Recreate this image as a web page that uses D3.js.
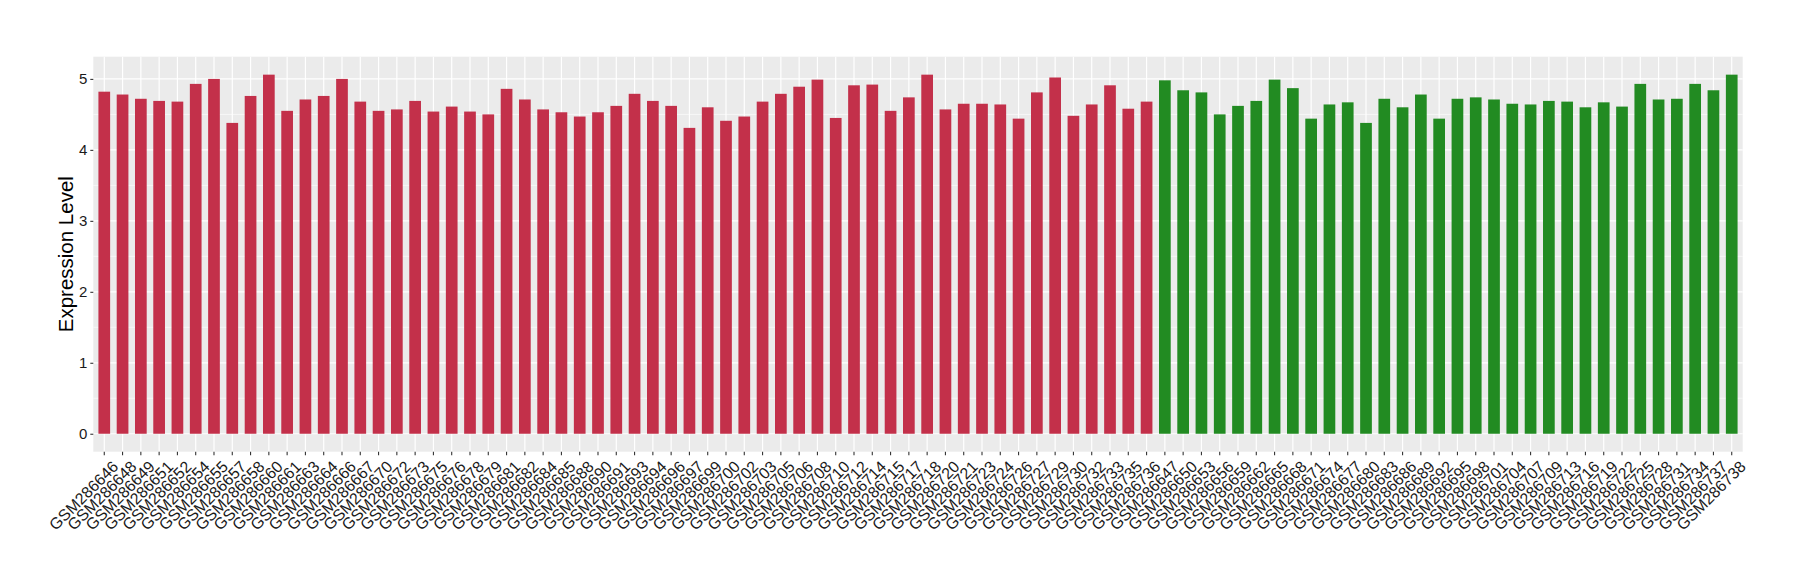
<!DOCTYPE html>
<html><head><meta charset="utf-8">
<script src="https://cdn.jsdelivr.net/npm/d3@7"></script>
<style>body{margin:0;background:#fff;}text{font-family:"Liberation Sans",Arial,sans-serif;}</style>
</head><body><svg id="c" width="1800" height="580"></svg>
<script>
const redSamples = ["GSM286646","GSM286648","GSM286649","GSM286651","GSM286652","GSM286654","GSM286655","GSM286657","GSM286658","GSM286660","GSM286661","GSM286663","GSM286664","GSM286666","GSM286667","GSM286670","GSM286672","GSM286673","GSM286675","GSM286676","GSM286678","GSM286679","GSM286681","GSM286682","GSM286684","GSM286685","GSM286688","GSM286690","GSM286691","GSM286693","GSM286694","GSM286696","GSM286697","GSM286699","GSM286700","GSM286702","GSM286703","GSM286705","GSM286706","GSM286708","GSM286710","GSM286712","GSM286714","GSM286715","GSM286717","GSM286718","GSM286720","GSM286721","GSM286723","GSM286724","GSM286726","GSM286727","GSM286729","GSM286730","GSM286732","GSM286733","GSM286735","GSM286736"];
const redValues = [4.82,4.78,4.72,4.69,4.68,4.93,5.00,4.38,4.76,5.06,4.55,4.71,4.76,5.00,4.68,4.55,4.57,4.69,4.54,4.61,4.54,4.50,4.86,4.71,4.57,4.53,4.47,4.53,4.62,4.79,4.69,4.62,4.31,4.60,4.41,4.47,4.68,4.79,4.89,4.99,4.45,4.91,4.92,4.55,4.74,5.06,4.57,4.65,4.65,4.64,4.44,4.81,5.02,4.48,4.64,4.91,4.58,4.68];
const greenSamples = ["GSM286647","GSM286650","GSM286653","GSM286656","GSM286659","GSM286662","GSM286665","GSM286668","GSM286671","GSM286674","GSM286677","GSM286680","GSM286683","GSM286686","GSM286689","GSM286692","GSM286695","GSM286698","GSM286701","GSM286704","GSM286707","GSM286709","GSM286713","GSM286716","GSM286719","GSM286722","GSM286725","GSM286728","GSM286731","GSM286734","GSM286737","GSM286738"];
const greenValues = [4.98,4.84,4.81,4.50,4.62,4.69,4.99,4.87,4.44,4.64,4.67,4.38,4.72,4.60,4.78,4.44,4.72,4.74,4.71,4.65,4.64,4.69,4.68,4.60,4.67,4.61,4.93,4.71,4.72,4.93,4.84,5.06];
const yTicks = [0,1,2,3,4,5];
const yTitle = "Expression Level";

const data = redSamples.map((s,i)=>({s, v:redValues[i], g:"red"}))
  .concat(greenSamples.map((s,i)=>({s, v:greenValues[i], g:"green"})));
const colors = {red:"#C3304A", green:"#228B22"};

const svg = d3.select("#c");
const L=93.3, R=1742.7, T=56.7, B=451.7;
const maxV = d3.max(data,d=>d.v);
const x = d3.scaleBand().domain(data.map(d=>d.s)).range([L,R]).paddingInner(0.36).paddingOuter(0.28);
const y = d3.scaleLinear().domain([-0.05*maxV, maxV*1.05]).range([B,T]);

svg.append("rect").attr("x",L).attr("y",T).attr("width",R-L).attr("height",B-T).attr("fill","#EBEBEB");
const minor = d3.range(0.5,5.5,1);
svg.append("g").selectAll("line").data(minor).join("line")
  .attr("x1",L).attr("x2",R).attr("y1",d=>y(d)).attr("y2",d=>y(d))
  .attr("stroke","#fff").attr("stroke-width",0.6);
svg.append("g").selectAll("line").data(yTicks).join("line")
  .attr("x1",L).attr("x2",R).attr("y1",d=>y(d)).attr("y2",d=>y(d))
  .attr("stroke","#fff").attr("stroke-width",1.2);
svg.append("g").selectAll("line").data(data).join("line")
  .attr("x1",d=>x(d.s)+x.bandwidth()/2).attr("x2",d=>x(d.s)+x.bandwidth()/2)
  .attr("y1",T).attr("y2",B).attr("stroke","#fff").attr("stroke-width",1.2);

svg.append("g").selectAll("rect").data(data).join("rect")
  .attr("x",d=>x(d.s)).attr("width",x.bandwidth())
  .attr("y",d=>y(d.v)).attr("height",d=>y(0)-y(d.v))
  .attr("fill",d=>colors[d.g]);

const ya = svg.append("g").attr("transform",`translate(${L},0)`)
  .call(d3.axisLeft(y).tickValues(yTicks).tickSize(3).tickPadding(3).tickFormat(d3.format("d")));
ya.select(".domain").remove();
ya.selectAll(".tick line").attr("stroke","#333").attr("stroke-width",1.1);
ya.selectAll(".tick text").attr("fill","#1a1a1a").style("font-size","15px").style("font-family","Liberation Sans, Arial, sans-serif");

const xa = svg.append("g").attr("transform",`translate(0,${B})`)
  .call(d3.axisBottom(x).tickSize(3.5).tickPadding(0));
xa.select(".domain").remove();
xa.selectAll(".tick line").attr("stroke","#333").attr("stroke-width",1.1);
xa.selectAll(".tick text").attr("fill","#1a1a1a").style("font-size","16px")
  .style("font-family","Liberation Sans, Arial, sans-serif")
  .attr("text-anchor","end").attr("y",0).attr("dy","0.71em")
  .attr("transform","translate(7,8) rotate(-45)");

svg.append("text").attr("transform",`translate(72.5,${(T+B)/2}) rotate(-90)`)
  .attr("text-anchor","middle").style("font-size","20.5px").attr("fill","#000").text(yTitle);
</script></body></html>
